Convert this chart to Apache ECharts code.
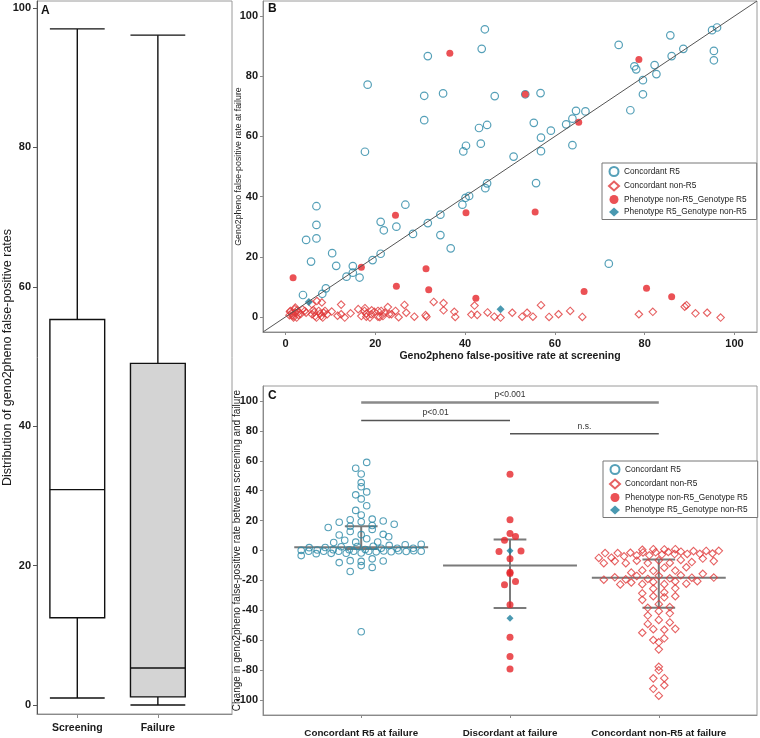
<!DOCTYPE html>
<html>
<head>
<meta charset="utf-8">
<script src="https://cdn.jsdelivr.net/npm/echarts@6/dist/echarts.min.js"></script>
<style>
html,body{margin:0;padding:0;background:#fff;}
#chart{width:760px;height:738px;}
</style>
</head>
<body>
<div id="chart"></div>
<script>
// ---------- Panel A : box plot ----------
const boxCategories = ['Screening', 'Failure'];
const boxMin = [1.0, 0.0];
const boxQ1 = [12.5, 1.15];
const boxMedian = [30.9, 5.3];
const boxQ3 = [55.3, 49.0];
const boxMax = [97.0, 96.1];
const aTicks = [0, 20, 40, 60, 80, 100];

// ---------- Panel B : screening vs failure ----------
const r5Screen = [44.4,43.7,31.7,18.3,30.9,35.1,46.6,30.9,43.1,44.9,43.5,40.2,39.6,17.7,
  95.0,96.1,85.7,74.2,95.4,95.4,88.6,86.0,77.7,78.1,82.2,82.6,79.6,79.6,76.8,56.8,64.7,66.8,
  63.9,62.5,55.3,59.1,56.9,56.9,63.9,50.8,53.4,44.9,44.5,40.9,40.1,39.4,34.5,34.5,36.8,31.7,
  28.4,26.7,24.7,21.2,21.9,21.2,19.4,15.0,15.0,13.6,16.5,11.3,10.4,6.9,6.9,6.9,4.6,5.7,3.9,
  8.2,9.0,55.8,72.0];
const r5Fail = [95.6,89.1,86.7,77.2,73.5,74.3,73.4,65.4,62.8,63.8,57.6,56.9,55.0,54.9,
  95.3,96.2,93.6,90.4,88.4,85.3,89.1,86.7,83.3,82.3,83.7,80.7,78.7,74.0,68.7,74.4,68.5,68.3,
  65.9,64.0,64.5,61.9,59.6,55.1,57.1,53.3,74.0,44.4,42.8,40.2,39.6,37.3,34.0,27.2,22.8,31.2,
  27.6,37.3,30.0,31.6,28.8,21.0,18.9,16.9,14.7,13.4,13.1,17.0,21.2,36.8,30.6,26.1,25.6,18.4,7.3,
  7.7,9.5,44.5,17.7];

const nonR5Screen = [1.0,1.1,1.5,1.8,1.8,2.1,2.2,2.2,2.5,2.9,2.9,3.4,1.4,2.6,0.9,3.8,
  4.3,4.6,5.9,5.9,6.2,6.6,6.9,7.0,7.4,8.0,8.1,8.3,8.5,8.8,9.3,6.4,7.7,
  10.3,11.6,12.4,12.4,13.2,14.5,
  16.2,16.9,17.6,17.7,18.0,18.0,18.8,19.1,19.2,19.8,20.6,20.6,21.0,21.3,21.7,22.1,22.8,23.1,23.6,
  24.5,25.2,26.5,26.9,28.7,
  31.2,31.4,33.0,35.2,35.2,37.6,37.8,
  41.4,42.1,42.7,45.0,46.5,47.9,
  50.5,52.7,53.8,55.1,56.9,58.7,60.8,63.4,66.1,78.7,81.8,88.9,89.3,91.3,93.9,96.9];
const nonR5Fail = [1.7,2.0,0.5,0.3,-0.2,2.6,1.4,3.1,-0.2,0.7,1.7,1.0,1.2,2.2,0.6,2.5,
  2.0,1.4,0.9,4.2,2.3,0.3,-0.2,5.3,2.0,0.3,4.8,-0.2,1.4,2.0,0.9,1.6,1.1,
  1.8,0.4,4.1,0.9,-0.2,1.2,
  2.6,0.3,2.0,2.9,1.1,0.1,-0.2,0.9,2.2,1.7,2.0,0.1,0.0,2.0,0.3,1.4,3.3,0.9,0.9,
  2.0,-0.1,4.0,1.4,0.1,
  0.6,0.1,5.0,4.6,2.2,1.7,0.0,
  0.8,3.8,0.7,1.5,0.1,-0.2,
  1.4,0.1,1.4,0.1,3.9,0.0,0.9,2.0,0.0,0.9,1.7,3.4,3.9,1.2,1.4,-0.2];

const phenoNonR5Screen = [36.6,78.7,53.4,65.3,40.2,24.5,16.9,1.7,31.3,24.7,31.9,42.4,55.6,66.5,80.4,86.0];
const phenoNonR5Fail   = [87.6,85.6,74.0,64.7,34.6,33.8,16.5,13.0,16.0,10.2,9.0,6.2,34.9,8.5,9.5,6.7];

const phenoR5Screen = [5.2, 47.9];
const phenoR5Fail   = [5.0, 2.6];

const bTicks = [0, 20, 40, 60, 80, 100];
const bRange = [-5, 105];

// ---------- Panel C : change between screening and failure ----------
const groupNames = ['Concordant R5 at failure', 'Discordant at failure', 'Concordant non-R5 at failure'];
const groupMedian = [2.2, -10.0, -18.2];
const groupLower  = [1.0, -38.4, -38.2];
const groupUpper  = [16.2, 7.3, -6.0];
const sigFrom  = [0, 0, 1];
const sigTo    = [2, 1, 2];
const sigLevel = [99, 87, 78];
const sigText  = ['p<0.001', 'p<0.01', 'n.s.'];
const cTicks = [-100, -80, -60, -40, -20, 0, 20, 40, 60, 80, 100];

const legendNames = ['Concordant R5', 'Concordant non-R5', 'Phenotype non-R5_Genotype R5', 'Phenotype R5_Genotype non-R5'];

// ---------- layout / style ----------
const FONT = "'Liberation Sans', Arial, sans-serif";
const BLUE = '#2a88a6', RED = '#e6262b', REDD = '#e0393b', TEAL = '#1d7f9d';
const gridA = {left: 36, top: 1, width: 196, height: 713};
const gridB = {left: 263, top: 1, width: 494, height: 331};
const gridC = {left: 263, top: 386, width: 494, height: 330};
const cX = [-0.66, 2.66], cY = [-110, 110];
const xPx = gridC.width / (cX[1] - cX[0]);

// scatter-dot-plot layout: values binned into rows, row points spread sideways
function rowLayout(values, binH, spacing, halfWidth) {
  const bins = {};
  values.forEach((v, i) => {
    const b = Math.floor(v / binH);
    (bins[b] = bins[b] || []).push(i);
  });
  const res = new Array(values.length).fill(0);
  Object.keys(bins).forEach(b => {
    const idx = bins[b].slice().sort((p, q) => values[p] - values[q]);
    const n = idx.length;
    if (n === 1) return;
    const s = Math.min(spacing, 2 * halfWidth / (n - 1));
    const posOrder = [];
    for (let k = 0; k < n; k += 2) posOrder.push(k);
    for (let k = 1; k < n; k += 2) posOrder.push(k);
    idx.forEach((i, j) => {
      res[i] = ((posOrder[j] - (n - 1) / 2) * s) / xPx;
    });
  });
  return res;
}

const diff = (s, f) => f.map((v, i) => +(v - s[i]).toFixed(2));
const r5Change = diff(r5Screen, r5Fail);
const nonR5Change = diff(nonR5Screen, nonR5Fail);
const phNonChange = diff(phenoNonR5Screen, phenoNonR5Fail);
const phR5Change = diff(phenoR5Screen, phenoR5Fail);

const r5Off = rowLayout(r5Change, 5, 11, 60);
const nonOff = rowLayout(nonR5Change, 5, 11, 60);
const discVals = phNonChange.concat(phR5Change);
const discOff = rowLayout(discVals, 5, 11, 17);

const pairs = (xs, ys) => xs.map((v, i) => [v, ys[i]]);

const axisGray = '#8a8a8a';
const boldLabel = (size) => ({fontFamily: FONT, fontWeight: 'bold', fontSize: size, color: '#1a1a1a'});

const option = {
  animation: false,
  backgroundColor: '#fff',
  textStyle: {fontFamily: FONT},
  grid: [
    Object.assign({show: true, borderColor: '#9a9a9a', borderWidth: 1}, gridA),
    Object.assign({show: true, borderColor: '#9a9a9a', borderWidth: 1}, gridB),
    Object.assign({show: true, borderColor: '#9a9a9a', borderWidth: 1}, gridC)
  ],
  graphic: [
    {type: 'text', left: 41, top: 5, style: {text: 'A', font: 'bold 12px ' + FONT, fill: '#111'}},
    {type: 'text', left: 268, top: 3, style: {text: 'B', font: 'bold 12px ' + FONT, fill: '#111'}},
    {type: 'text', left: 268, top: 390, style: {text: 'C', font: 'bold 12px ' + FONT, fill: '#111'}}
  ],
  legend: [0, 1].map(k => ({
    show: true,
    selectedMode: false,
    orient: 'vertical',
    left: k === 0 ? 602 : 603,
    top: k === 0 ? 163 : 461,
    data: legendNames,
    backgroundColor: '#fff',
    borderColor: '#777',
    borderWidth: 1,
    padding: [3, 10, 3, 6],
    itemGap: 3.5,
    itemWidth: 10,
    itemHeight: 9,
    textStyle: {fontFamily: FONT, fontSize: 8.3, color: '#222'}
  })),
  xAxis: [
    {
      type: 'value', gridIndex: 0, min: -0.5, max: 1.92,
      axisLine: {show: true, onZero: false, lineStyle: {color: axisGray}},
      axisTick: {show: true, length: 4, customValues: [0, 1], lineStyle: {color: axisGray}},
      axisLabel: Object.assign({customValues: [0, 1], margin: 9, formatter: v => boxCategories[Math.round(v)] || ''}, boldLabel(10.5)),
      splitLine: {show: false}
    },
    {
      type: 'value', gridIndex: 1, min: bRange[0], max: bRange[1],
      axisLine: {show: true, onZero: false, lineStyle: {color: axisGray}},
      axisTick: {show: true, length: 3, customValues: bTicks, lineStyle: {color: axisGray}},
      axisLabel: Object.assign({customValues: bTicks, margin: 6}, boldLabel(11)),
      splitLine: {show: false},
      name: 'Geno2pheno false-positive rate at screening',
      nameLocation: 'middle', nameGap: 19, nameMoveOverlap: false,
      nameTextStyle: {fontFamily: FONT, fontWeight: 'bold', fontSize: 10.5, color: '#1a1a1a'}
    },
    {
      type: 'value', gridIndex: 2, min: cX[0], max: cX[1],
      axisLine: {show: true, onZero: false, lineStyle: {color: axisGray}},
      axisTick: {show: true, length: 3, customValues: [0, 1, 2], lineStyle: {color: axisGray}},
      axisLabel: Object.assign({customValues: [0, 1, 2], margin: 13, formatter: v => groupNames[Math.round(v)] || ''}, boldLabel(9.8)),
      splitLine: {show: false}
    }
  ],
  yAxis: [
    {
      type: 'value', gridIndex: 0, min: -1.3, max: 101,
      axisLine: {show: true, onZero: false, lineStyle: {color: '#555'}},
      axisTick: {show: true, length: 4, customValues: aTicks, lineStyle: {color: '#555'}},
      axisLabel: Object.assign({customValues: aTicks, margin: 6}, boldLabel(11)),
      splitLine: {show: false},
      name: 'Distribution of geno2pheno false-positive rates',
      nameLocation: 'middle', nameGap: 23, nameRotate: 90, nameMoveOverlap: false,
      nameTextStyle: {fontFamily: FONT, fontSize: 12.5, color: '#1a1a1a'}
    },
    {
      type: 'value', gridIndex: 1, min: bRange[0], max: bRange[1],
      axisLine: {show: true, onZero: false, lineStyle: {color: axisGray}},
      axisTick: {show: true, length: 3, customValues: bTicks, lineStyle: {color: axisGray}},
      axisLabel: Object.assign({customValues: bTicks, margin: 5}, boldLabel(11)),
      splitLine: {show: false},
      name: 'Geno2pheno false-positive rate at failure',
      nameLocation: 'middle', nameGap: 20, nameRotate: 90, nameMoveOverlap: false,
      nameTextStyle: {fontFamily: FONT, fontSize: 8.8, color: '#1a1a1a'}
    },
    {
      type: 'value', gridIndex: 2, min: cY[0], max: cY[1],
      axisLine: {show: true, onZero: false, lineStyle: {color: axisGray}},
      axisTick: {show: true, length: 3, customValues: cTicks, lineStyle: {color: axisGray}},
      axisLabel: Object.assign({customValues: cTicks, margin: 5}, boldLabel(11)),
      splitLine: {show: false},
      name: 'Change in geno2pheno false-positive rate between screening and failure',
      nameLocation: 'middle', nameGap: 21, nameRotate: 90, nameMoveOverlap: false,
      nameTextStyle: {fontFamily: FONT, fontSize: 10, color: '#1a1a1a'}
    }
  ],
  series: [
    {
      type: 'custom', name: 'box', xAxisIndex: 0, yAxisIndex: 0, silent: true,
      encode: {x: 0, y: [1, 2, 3, 4, 5]},
      data: boxCategories.map((c, i) => [i, boxMin[i], boxQ1[i], boxMedian[i], boxQ3[i], boxMax[i]]),
      renderItem: function (params, api) {
        const i = api.value(0), h = 0.34;
        const P = (x, y) => api.coord([x, y]);
        const fill = params.dataIndex === 0 ? '#ffffff' : '#d4d4d4';
        const st = {stroke: '#111', lineWidth: 1.4, fill: 'none'};
        const line = (a, b) => ({type: 'line', shape: {x1: a[0], y1: a[1], x2: b[0], y2: b[1]}, style: st});
        const tl = P(i - h, api.value(4)), br = P(i + h, api.value(2));
        return {type: 'group', children: [
          line(P(i, api.value(4)), P(i, api.value(5))),
          line(P(i, api.value(2)), P(i, api.value(1))),
          line(P(i - h, api.value(5)), P(i + h, api.value(5))),
          line(P(i - h, api.value(1)), P(i + h, api.value(1))),
          {type: 'rect', shape: {x: tl[0], y: tl[1], width: br[0] - tl[0], height: br[1] - tl[1]}, style: {fill: fill, stroke: '#111', lineWidth: 1.4}},
          line(P(i - h, api.value(3)), P(i + h, api.value(3)))
        ]};
      }
    },
    {
      type: 'line', name: 'identity', xAxisIndex: 1, yAxisIndex: 1, silent: true,
      data: bRange.map(v => [v, v]), symbol: 'none',
      lineStyle: {color: '#555', width: 1}
    },
    {
      type: 'scatter', name: legendNames[0], xAxisIndex: 1, yAxisIndex: 1,
      data: pairs(r5Screen, r5Fail), symbol: 'circle', symbolSize: 7.5,
      itemStyle: {color: 'rgba(255,255,255,0)', borderColor: BLUE, borderWidth: 1.2}
    },
    {
      type: 'scatter', name: legendNames[1], xAxisIndex: 1, yAxisIndex: 1,
      data: pairs(nonR5Screen, nonR5Fail), symbol: 'diamond', symbolSize: 7.5,
      itemStyle: {color: 'rgba(255,255,255,0)', borderColor: REDD, borderWidth: 1.1}
    },
    {
      type: 'scatter', name: legendNames[2], xAxisIndex: 1, yAxisIndex: 1,
      data: pairs(phenoNonR5Screen, phenoNonR5Fail), symbol: 'circle', symbolSize: 7,
      itemStyle: {color: RED}
    },
    {
      type: 'scatter', name: legendNames[3], xAxisIndex: 1, yAxisIndex: 1,
      data: pairs(phenoR5Screen, phenoR5Fail), symbol: 'diamond', symbolSize: 8,
      itemStyle: {color: TEAL}
    },
    {
      type: 'custom', name: 'stats', xAxisIndex: 2, yAxisIndex: 2, silent: true,
      encode: {x: 0, y: [1, 2, 3]},
      data: groupNames.map((g, i) => [i, groupMedian[i], groupLower[i], groupUpper[i]]),
      renderItem: function (params, api) {
        const i = api.value(0);
        const P = (x, y) => api.coord([x, y]);
        const st = {stroke: '#7a7a7a', lineWidth: 2};
        const line = (a, b) => ({type: 'line', shape: {x1: a[0], y1: a[1], x2: b[0], y2: b[1]}, style: st});
        return {type: 'group', children: [
          line(P(i - 0.45, api.value(1)), P(i + 0.45, api.value(1))),
          line(P(i, api.value(2)), P(i, api.value(3))),
          line(P(i - 0.11, api.value(2)), P(i + 0.11, api.value(2))),
          line(P(i - 0.11, api.value(3)), P(i + 0.11, api.value(3)))
        ]};
      }
    },
    {
      type: 'custom', name: 'sig', xAxisIndex: 2, yAxisIndex: 2, silent: true,
      encode: {x: [0, 1], y: 2},
      data: sigText.map((t, i) => [sigFrom[i], sigTo[i], sigLevel[i]]),
      renderItem: function (params, api) {
        const a = api.coord([api.value(0), api.value(2)]);
        const b = api.coord([api.value(1), api.value(2)]);
        const k = params.dataIndex;
        return {type: 'group', children: [
          {type: 'line', shape: {x1: a[0], y1: a[1], x2: b[0], y2: b[1]},
           style: {stroke: k === 0 ? '#8a8a8a' : '#555', lineWidth: k === 0 ? 2.5 : 1.5}},
          {type: 'text', style: {text: sigText[k], x: (a[0] + b[0]) / 2, y: a[1] - 3,
            textAlign: 'center', textVerticalAlign: 'bottom', font: '8.5px ' + FONT, fill: '#333'}}
        ]};
      }
    },
    {
      type: 'scatter', name: legendNames[0], xAxisIndex: 2, yAxisIndex: 2,
      data: r5Change.map((v, i) => [0 + r5Off[i], v]), symbol: 'circle', symbolSize: 6.5,
      itemStyle: {color: 'rgba(255,255,255,0)', borderColor: BLUE, borderWidth: 1.1}
    },
    {
      type: 'scatter', name: legendNames[1], xAxisIndex: 2, yAxisIndex: 2,
      data: nonR5Change.map((v, i) => [2 + nonOff[i], v]), symbol: 'diamond', symbolSize: 7.5,
      itemStyle: {color: 'rgba(255,255,255,0)', borderColor: REDD, borderWidth: 1.1}
    },
    {
      type: 'scatter', name: legendNames[2], xAxisIndex: 2, yAxisIndex: 2,
      data: phNonChange.map((v, i) => [1 + discOff[i], v]), symbol: 'circle', symbolSize: 7,
      itemStyle: {color: RED}
    },
    {
      type: 'scatter', name: legendNames[3], xAxisIndex: 2, yAxisIndex: 2,
      data: phR5Change.map((v, i) => [1 + discOff[phNonChange.length + i], v]), symbol: 'diamond', symbolSize: 7,
      itemStyle: {color: TEAL}
    }
  ]
};

const chart = echarts.init(document.getElementById('chart'), null, {renderer: 'canvas'});
chart.setOption(option);
</script>
</body>
</html>
